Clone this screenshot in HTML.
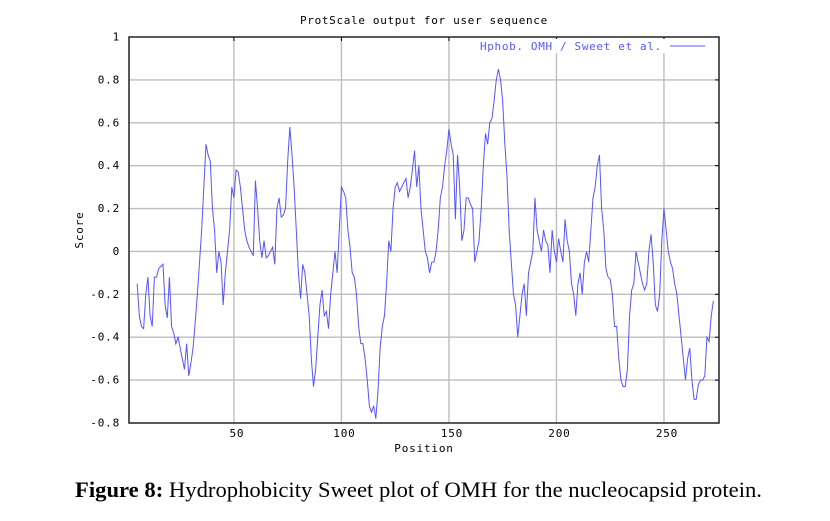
<!DOCTYPE html>
<html><head><meta charset="utf-8"><style>
html,body{margin:0;padding:0;background:#fff;width:830px;height:521px;overflow:hidden}
svg{display:block}
.m{font-family:"DejaVu Sans Mono","Liberation Mono",monospace;font-size:11px;letter-spacing:0.8px;fill:#000}
</style></head><body>
<svg id="chart" width="830" height="521" xmlns="http://www.w3.org/2000/svg">
<text class="m" x="300" y="24" textLength="248">ProtScale output for user sequence</text>
<g id="grid"></g>
<g id="axes"></g>
<path id="series" fill="none" stroke="#5555ff" stroke-width="1"/>
<rect x="476" y="39" width="238" height="14" fill="#fff"/>
<text class="m" x="480" y="50" textLength="182" style="fill:#5555ff">Hphob. OMH / Sweet et al.</text>
<line x1="670" y1="46" x2="705" y2="46" stroke="#5555ff"/>
<text class="m" x="424" y="452" text-anchor="middle">Position</text>
<text class="m" transform="translate(83,230) rotate(-90)" text-anchor="middle">Score</text>
<text x="75" y="497" textLength="687" lengthAdjust="spacingAndGlyphs" style="font-family:'Liberation Serif',serif;font-size:22px"><tspan font-weight="bold">Figure 8:</tspan> Hydrophobicity Sweet plot of OMH for the nucleocapsid protein.</text>
</svg>
<script>
const xTicks=[50,100,150,200,250];
const yTicks=[-0.8,-0.6,-0.4,-0.2,0,0.2,0.4,0.6,0.8,1];
const yTickLabels=["-0.8","-0.6","-0.4","-0.2","0","0.2","0.4","0.6","0.8","1"];
const startPos=5;
const scores=[-0.15,-0.3,-0.35,-0.36,-0.2,-0.12,-0.3,-0.35,-0.12,-0.12,-0.08,-0.07,-0.06,-0.25,-0.31,-0.12,-0.35,-0.38,-0.43,-0.40,-0.45,-0.5,-0.55,-0.43,-0.58,-0.52,-0.45,-0.33,-0.2,-0.05,0.1,0.3,0.5,0.45,0.42,0.2,0.1,-0.1,0.0,-0.05,-0.25,-0.1,0.0,0.1,0.3,0.25,0.38,0.37,0.3,0.2,0.1,0.05,0.02,0.0,-0.02,0.33,0.2,0.05,-0.03,0.05,-0.03,-0.02,0.0,0.02,-0.06,0.2,0.25,0.16,0.17,0.2,0.42,0.58,0.45,0.3,0.1,-0.1,-0.22,-0.06,-0.1,-0.2,-0.3,-0.5,-0.63,-0.55,-0.4,-0.25,-0.18,-0.3,-0.28,-0.36,-0.2,-0.1,0.0,-0.1,0.1,0.3,0.28,0.25,0.1,0.02,-0.1,-0.12,-0.2,-0.35,-0.43,-0.43,-0.5,-0.6,-0.72,-0.75,-0.72,-0.78,-0.65,-0.45,-0.35,-0.3,-0.15,0.05,0.0,0.2,0.3,0.32,0.28,0.3,0.32,0.34,0.25,0.3,0.38,0.47,0.3,0.4,0.2,0.1,0.0,-0.03,-0.1,-0.05,-0.05,0.0,0.1,0.25,0.3,0.4,0.47,0.57,0.5,0.45,0.15,0.45,0.3,0.05,0.1,0.25,0.25,0.22,0.2,-0.05,0.0,0.05,0.2,0.4,0.55,0.5,0.6,0.62,0.7,0.8,0.85,0.8,0.7,0.5,0.35,0.1,-0.05,-0.2,-0.25,-0.4,-0.3,-0.2,-0.15,-0.3,-0.1,-0.05,0.0,0.25,0.1,0.05,0.0,0.1,0.05,0.03,-0.1,0.1,0.0,-0.05,0.06,0.0,-0.05,0.15,0.05,0.0,-0.15,-0.2,-0.3,-0.15,-0.1,-0.2,-0.05,0.0,-0.05,0.1,0.25,0.3,0.4,0.45,0.2,0.1,-0.08,-0.12,-0.13,-0.2,-0.35,-0.35,-0.5,-0.6,-0.63,-0.63,-0.55,-0.3,-0.18,-0.15,0.0,-0.05,-0.1,-0.15,-0.18,-0.15,0.0,0.08,-0.05,-0.25,-0.28,-0.2,0.05,0.2,0.1,0.0,-0.05,-0.08,-0.15,-0.2,-0.3,-0.4,-0.5,-0.6,-0.5,-0.45,-0.6,-0.69,-0.69,-0.62,-0.6,-0.6,-0.58,-0.4,-0.42,-0.3,-0.23];

const L=129,R=719,T=37,B=423;
const xMin=1.2,xMax=275.6,yMin=-0.8,yMax=1;
const sx=v=>L+(v-xMin)/(xMax-xMin)*(R-L);
const sy=v=>B-(v-yMin)/(yMax-yMin)*(B-T);
const NS="http://www.w3.org/2000/svg";
const grid=document.getElementById('grid'),axes=document.getElementById('axes');
function mk(tag,attrs,parent){const e=document.createElementNS(NS,tag);for(const k in attrs)e.setAttribute(k,attrs[k]);parent.appendChild(e);return e;}
yTicks.forEach((t,i)=>{
  const y=sy(t);
  if(t!==yMin&&t!==yMax){
    const g=mk('line',{x1:L,x2:R,y1:y,y2:y,stroke:'#bdbdbd','stroke-width':1.4},grid);
    
    
  }
  const tk=mk('line',{x1:R-4,x2:R,y1:y,y2:y,stroke:'#000'},axes);
  
  
  const lb=mk('text',{x:L-9,y:y+3.5,'text-anchor':'end',class:'m'},axes);
  lb.textContent=yTickLabels[i];
  
  
});
xTicks.forEach(t=>{
  const x=sx(t);
  const g=mk('line',{x1:x,x2:x,y1:T,y2:B,stroke:'#bdbdbd','stroke-width':1.4},grid);
  
  
  const tk=mk('line',{x1:x,x2:x,y1:T,y2:T+4,stroke:'#000'},axes);
  
  
  const lb=mk('text',{x:x+3,y:B+14,'text-anchor':'middle',class:'m'},axes);
  lb.textContent=String(t);
  
  
});
const frame=mk('rect',{x:L,y:T,width:R-L,height:B-T,fill:'none',stroke:'#222','stroke-width':1.5},axes);


let d='';
scores.forEach((v,i)=>{d+=(i?'L':'M')+sx(startPos+i).toFixed(2)+','+sy(v).toFixed(2);});
document.getElementById('series').setAttribute('d',d);
</script>
</body></html>
